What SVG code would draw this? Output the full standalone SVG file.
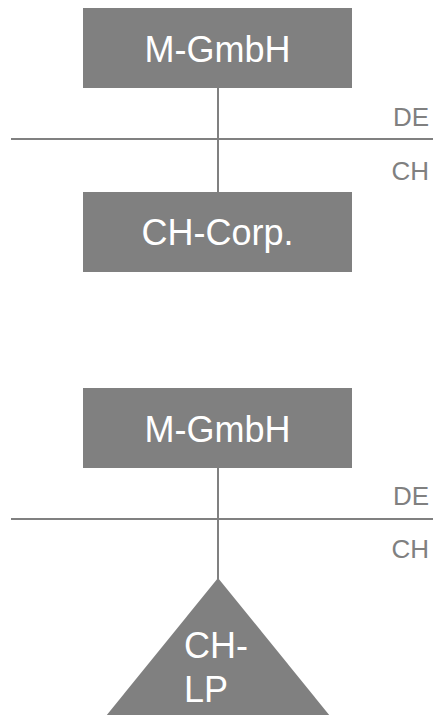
<svg xmlns="http://www.w3.org/2000/svg" width="433" height="715" viewBox="0 0 433 715">
  <style>
    .box { fill: #808080; }
    .lbl { font-family: "Liberation Sans", Arial, sans-serif; font-size: 36px; fill: #ffffff; }
    .ctry { font-family: "Liberation Sans", Arial, sans-serif; font-size: 26px; fill: #808080; text-anchor: end; }
    .ln { stroke: #808080; stroke-width: 2; fill: none; }
  </style>
  <rect width="433" height="715" fill="#ffffff"/>

  <!-- connectors and border lines -->
  <g id="connectors">
    <line class="ln" x1="11" y1="139" x2="433" y2="139"/>
    <line class="ln" x1="218" y1="88" x2="218" y2="192"/>
    <line class="ln" x1="11" y1="519" x2="433" y2="519"/>
    <line class="ln" x1="218" y1="468" x2="218" y2="579"/>
  </g>

  <!-- country labels -->
  <g id="labels">
    <text class="ctry" x="429" y="126">DE</text>
    <text class="ctry" x="429" y="180">CH</text>
    <text class="ctry" x="429" y="505">DE</text>
    <text class="ctry" x="429" y="558">CH</text>
  </g>

  <g id="m-gmbh-1">
    <rect class="box" x="83" y="8" width="269" height="80"/>
    <text class="lbl" x="217.5" y="62" text-anchor="middle">M-GmbH</text>
  </g>

  <g id="ch-corp">
    <rect class="box" x="83" y="192" width="269" height="80"/>
    <text class="lbl" x="217.5" y="245" text-anchor="middle">CH-Corp.</text>
  </g>

  <g id="m-gmbh-2">
    <rect class="box" x="83" y="388" width="269" height="80"/>
    <text class="lbl" x="217.5" y="442" text-anchor="middle">M-GmbH</text>
  </g>

  <g id="ch-lp">
    <polygon class="box" points="218,578 106,716 330,716"/>
    <text class="lbl" x="184" y="658">CH-</text>
    <text class="lbl" x="184" y="702">LP</text>
  </g>
</svg>
